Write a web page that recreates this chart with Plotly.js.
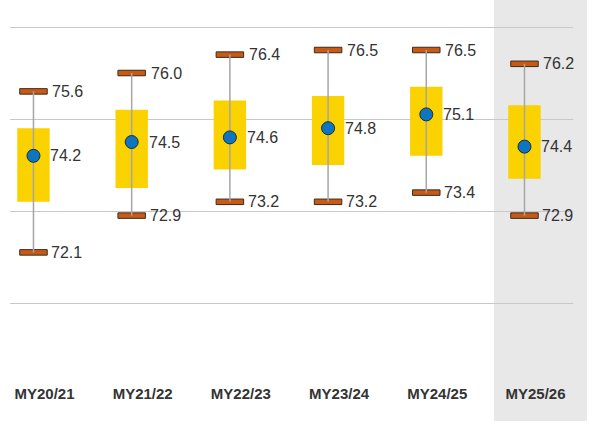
<!DOCTYPE html>
<html>
<head>
<meta charset="utf-8">
<script src="https://cdn.plot.ly/plotly-3.0.1.min.js"></script>
<style>html,body{margin:0;padding:0;background:#fff;}#chart{width:592px;height:426px;}</style>
</head>
<body>
<div id="chart"></div>
<script>
// ---- data ----
const categories = ["MY20/21", "MY21/22", "MY22/23", "MY23/24", "MY24/25", "MY25/26"];
const maxVals  = [75.6, 76.0, 76.4, 76.5, 76.5, 76.2];
const q3Vals   = [74.8, 75.2, 75.4, 75.5, 75.7, 75.3];
const meanVals = [74.2, 74.5, 74.6, 74.8, 75.1, 74.4];
const q1Vals   = [73.2, 73.5, 73.9, 74.0, 74.2, 73.7];
const minVals  = [72.1, 72.9, 73.2, 73.2, 73.4, 72.9];
const gridValues = [71, 73, 75, 77];

// ---- styling ----
const yellow = "#FAD200";
const capColor = "#C85A14";
const capEdge = "#3b2b20";
const dotColor = "#0E75C0";
const capHalf = 0.06; // cap thickness in axis units (≈5.5px)

const wx = [], wy = [];
categories.forEach((c, i) => { wx.push(c, c, null); wy.push(minVals[i], maxVals[i], null); });

const traces = [
  { type: "scatter", mode: "lines", x: wx, y: wy, line: { color: "#a6a6a6", width: 1.5 }, hoverinfo: "skip" },
  { type: "bar", x: categories, base: q1Vals, y: q3Vals.map((v, i) => v - q1Vals[i]),
    width: 0.33, marker: { color: yellow, line: { width: 0 } } },
  { type: "bar", x: categories, base: maxVals.map(v => v - capHalf), y: maxVals.map(() => 2 * capHalf),
    width: 0.28, marker: { color: capColor, line: { color: capEdge, width: 1 } } },
  { type: "bar", x: categories, base: minVals.map(v => v - capHalf), y: minVals.map(() => 2 * capHalf),
    width: 0.28, marker: { color: capColor, line: { color: capEdge, width: 1 } } },
  { type: "scatter", mode: "markers", x: categories, y: meanVals,
    marker: { color: dotColor, size: 13, line: { color: "#1d2b3a", width: 1 } } }
];

const labelFont = { family: "Liberation Sans, Arial, sans-serif", size: 16, color: "#333333" };
const annotations = [];
function addLabels(vals, shift) {
  vals.forEach((v, i) => annotations.push({
    x: categories[i], y: v, xref: "x", yref: "y", text: v.toFixed(1), showarrow: false,
    xanchor: "left", yanchor: "middle", xshift: shift, font: labelFont
  }));
}
addLabels(maxVals, 17);
addLabels(meanVals, 15);
addLabels(minVals, 16);

const layout = {
  width: 592, height: 426,
  margin: { l: 10, r: 19, t: 10, b: 46 },
  paper_bgcolor: "#ffffff",
  plot_bgcolor: "rgba(0,0,0,0)",
  showlegend: false,
  barmode: "overlay",
  xaxis: {
    type: "category", range: [-0.239, 5.494], showgrid: false, zeroline: false, showline: false,
    ticks: "", ticklabelshift: 11, ticklabelstandoff: 3,
    tickfont: { family: "Liberation Sans, Arial, sans-serif", size: 15, color: "#333333", weight: "bold" }
  },
  yaxis: {
    range: [69.326, 77.37], tickvals: gridValues, showticklabels: false, ticks: "",
    showgrid: true, gridcolor: "#c8c8c8", gridwidth: 1, zeroline: false, showline: false
  },
  shapes: [{
    type: "rect", xref: "paper", yref: "paper", x0: 0.8597, x1: 1.0249, y0: -0.111, y1: 1.03,
    fillcolor: "#e8e8e8", line: { width: 0 }, layer: "below"
  }],
  annotations: annotations
};

Plotly.newPlot("chart", traces, layout, { displayModeBar: false, staticPlot: true });
</script>
</body>
</html>
